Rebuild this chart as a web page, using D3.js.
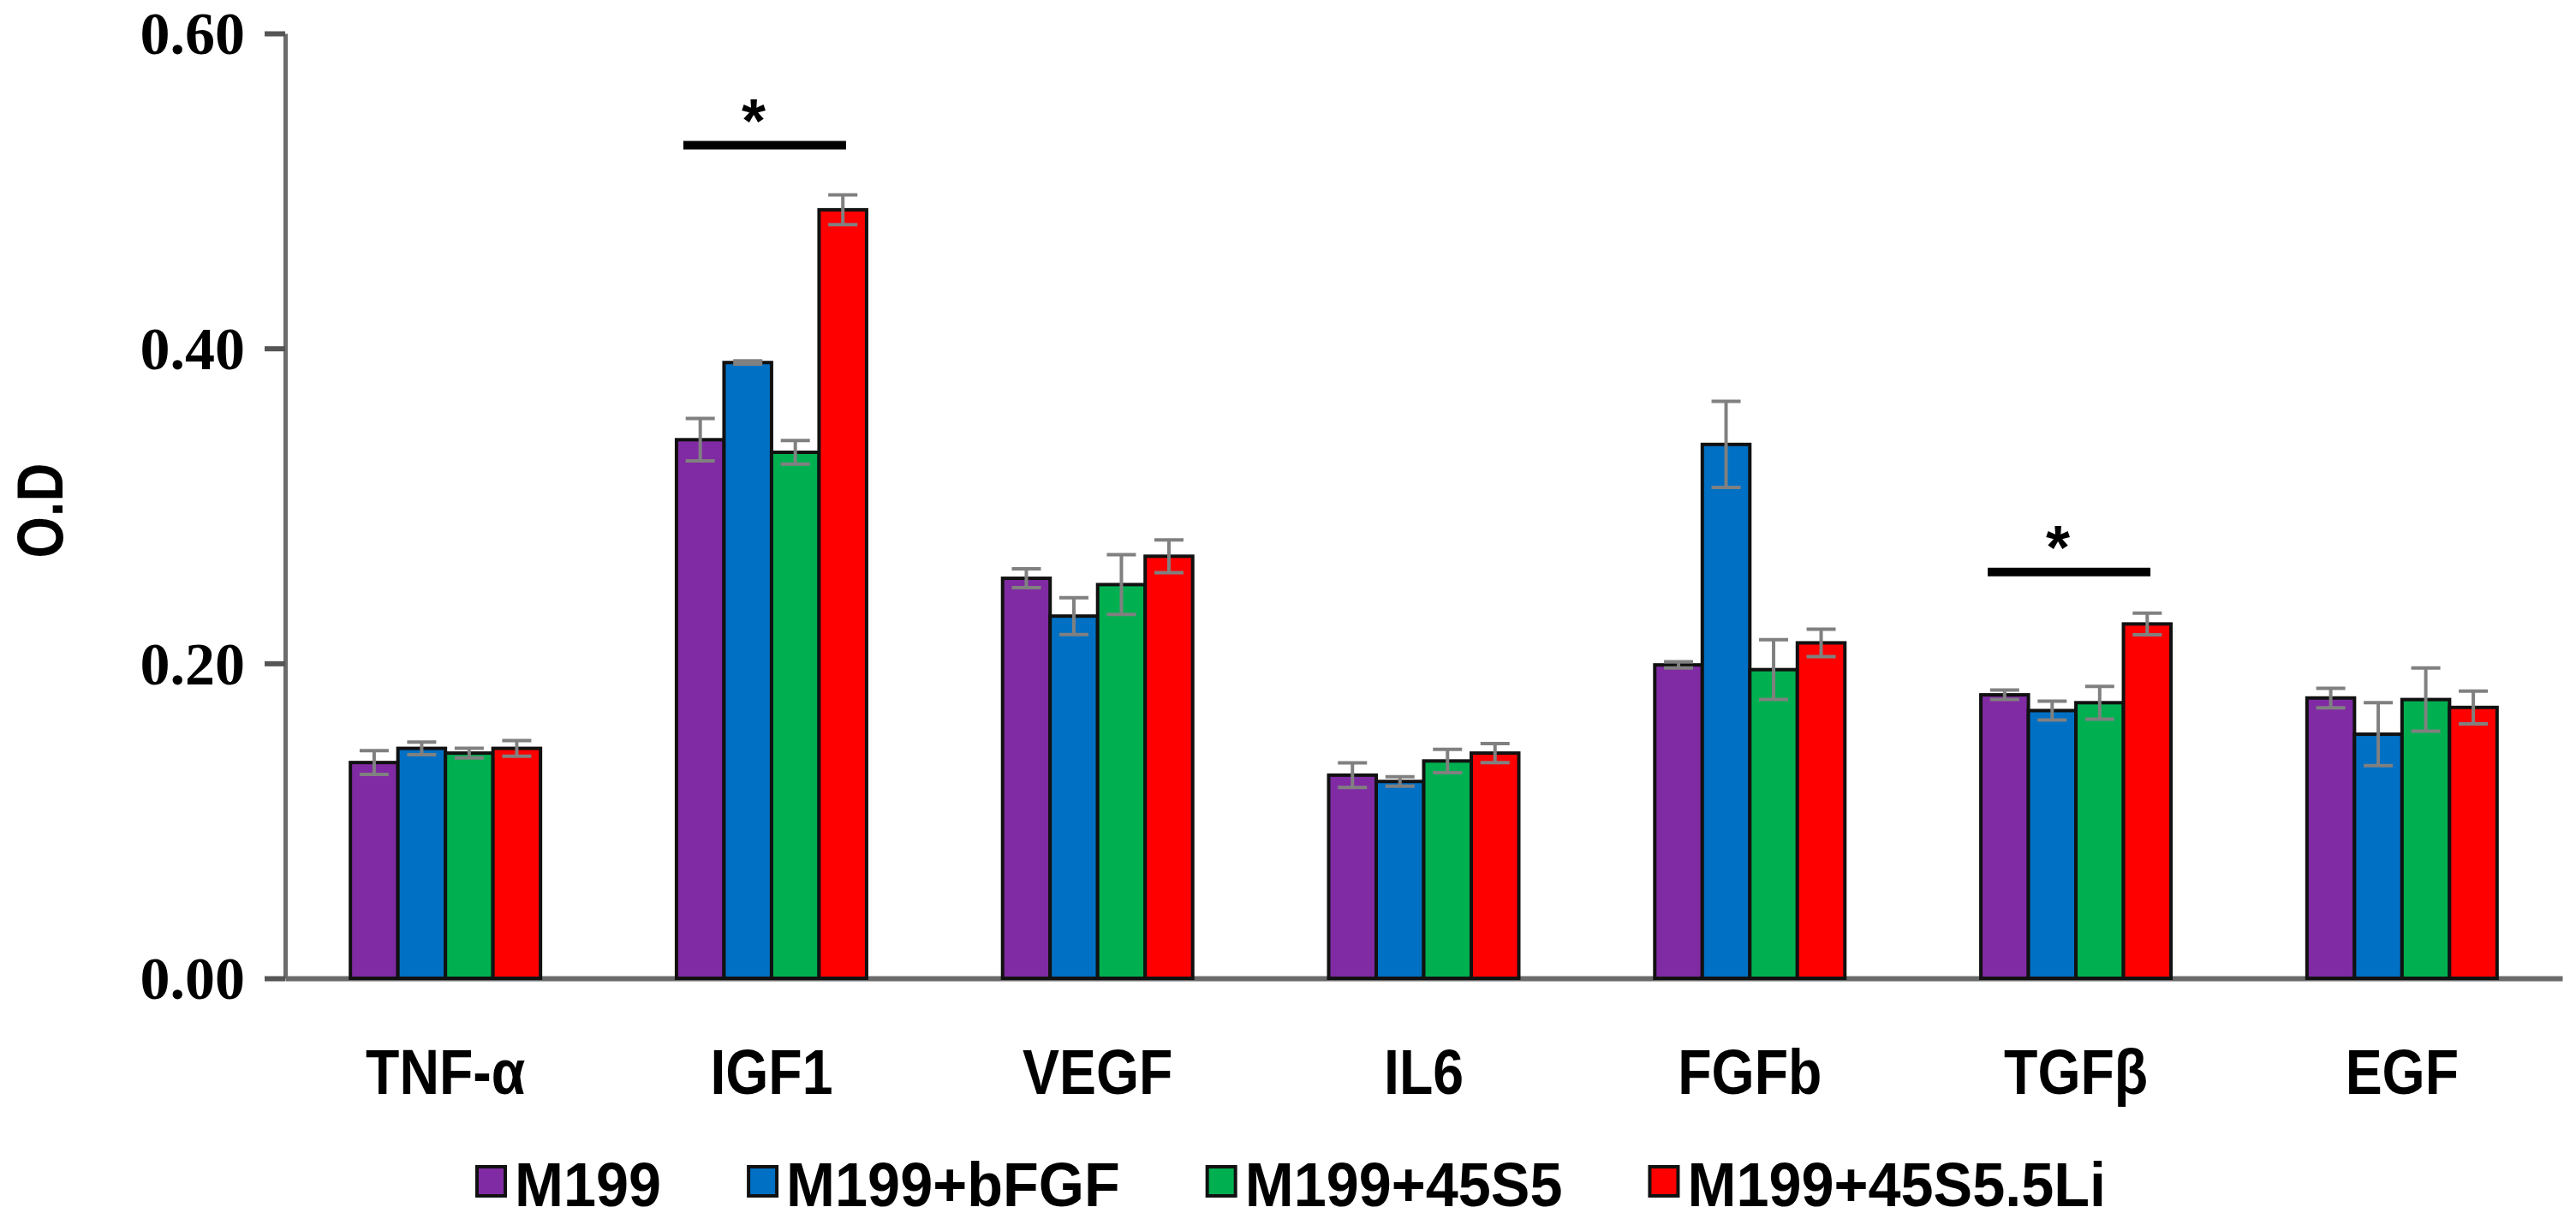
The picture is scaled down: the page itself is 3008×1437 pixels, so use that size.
<!DOCTYPE html>
<html>
<head>
<meta charset="utf-8">
<script src="https://cdn.jsdelivr.net/npm/d3@7"></script>
<style>
	body { margin: 0; background: #fff; }
	svg { display: block; }
</style>
</head>
<body>
<div id="chart"></div>
<script>
// Data
const categories = ['TNF-α', 'IGF1', 'VEGF', 'IL6', 'FGFb', 'TGFβ', 'EGF']
const seriesNames = ['M199', 'M199+bFGF', 'M199+45S5', 'M199+45S5.5Li']
const seriesColors = ['#802ba3', '#0070c4', '#00b050', '#ff0000']

const valM199 = [0.137, 0.342, 0.254, 0.129, 0.199, 0.180, 0.178]
const valBFGF = [0.146, 0.391, 0.230, 0.125, 0.339, 0.170, 0.155]
const val45S5 = [0.143, 0.334, 0.250, 0.138, 0.196, 0.175, 0.177]
const valLi = [0.146, 0.488, 0.268, 0.143, 0.213, 0.225, 0.172]

const errM199 = [0.0075, 0.0135, 0.006, 0.0078, 0.002, 0.003, 0.0062]
const errBFGF = [0.004, 0.001, 0.0117, 0.003, 0.0273, 0.006, 0.020]
const err45S5 = [0.003, 0.0075, 0.019, 0.0074, 0.019, 0.0104, 0.020]
const errLi = [0.005, 0.0095, 0.0104, 0.006, 0.0087, 0.0069, 0.0104]

const yTicks = [0, 0.2, 0.4, 0.6]
const yTitle = 'O.D'

// significance marks: category and the level of the bar
const sigCategories = ['IGF1', 'TGFβ']
const sigLevels = [0.529, 0.258]

const allValues = [valM199, valBFGF, val45S5, valLi]
const allErrors = [errM199, errBFGF, err45S5, errLi]

// Chart dimensions
const chartWidth = 3008
const chartHeight = 1437
const axisLeftX = 333
const axisRightX = 2992
const axisBottomY = 1142
const axisTopY = 39

// Scales
let x0 = d3.scaleBand()
	.domain(categories)
	.range([axisLeftX, axisRightX])
	.paddingInner(0.417)
	.paddingOuter(0.2)
let x1 = d3.scaleBand()
	.domain(seriesNames)
	.range([0, x0.bandwidth()])
let y = d3.scaleLinear()
	.domain([0, 0.6])
	.range([axisBottomY, axisTopY])

let svg = d3.select('#chart')
	.append('svg')
	.attr('width', chartWidth)
	.attr('height', chartHeight)
	.style('background', '#fff')

// Flatten bars
let bars = []
categories.forEach((cat, i) => {
	seriesNames.forEach((s, j) => {
		bars.push({ cat: cat, series: s, value: allValues[j][i], err: allErrors[j][i], color: seriesColors[j] })
	})
})

// X axis (line + labels)
let xAxis = svg.append('g')
	.attr('transform', 'translate(0,' + axisBottomY + ')')
	.call(d3.axisBottom(x0).tickSize(0).tickSizeOuter(0))
xAxis.select('.domain')
	.attr('stroke', '#6b6b6b')
	.attr('stroke-width', 6)
xAxis.selectAll('text')
	.attr('y', 135)
	.attr('dy', 0)
	.attr('transform', 'scale(0.87,1)')
	.style('font-family', '"Liberation Sans", Arial, sans-serif')
	.style('font-weight', 'bold')
	.style('font-size', '74px')
	.style('fill', '#000')

// Y axis
let yAxis = svg.append('g')
	.attr('transform', 'translate(' + axisLeftX + ',0)')
	.call(d3.axisLeft(y)
		.tickValues(yTicks)
		.tickFormat(d3.format('.2f'))
		.tickSize(24)
		.tickSizeOuter(0)
		.tickPadding(23))
yAxis.select('.domain')
	.attr('stroke', '#6b6b6b')
	.attr('stroke-width', 5)
yAxis.selectAll('.tick line')
	.attr('stroke', '#555')
	.attr('stroke-width', 6)
yAxis.selectAll('text')
	.attr('dy', '0.34em')
	.style('font-family', '"Liberation Serif", "Times New Roman", serif')
	.style('font-weight', 'bold')
	.style('font-size', '70px')
	.style('fill', '#000')

// Y title
svg.append('text')
	.attr('transform', 'translate(73,596) rotate(-90) scale(0.82,1)')
	.attr('text-anchor', 'middle')
	.style('font-family', '"Liberation Sans", Arial, sans-serif')
	.style('font-weight', 'bold')
	.style('font-size', '76px')
	.text(yTitle)

// Bars
svg.append('g')
	.selectAll('rect')
	.data(bars)
	.enter()
	.append('rect')
	.attr('x', (d) => x0(d.cat) + x1(d.series))
	.attr('y', (d) => y(d.value))
	.attr('width', x1.bandwidth())
	.attr('height', (d) => y(0) - y(d.value))
	.attr('fill', (d) => d.color)
	.attr('stroke', '#111')
	.attr('stroke-width', 4)

// Error bars
const capWidth = 34
let errG = svg.append('g')
	.attr('stroke', '#808080')
	.attr('stroke-width', 4)
bars.forEach((d) => {
	let cx = x0(d.cat) + x1(d.series) + x1.bandwidth() / 2
	let top = y(d.value + d.err)
	let bottom = y(d.value - d.err)
	errG.append('line')
		.attr('x1', cx).attr('x2', cx)
		.attr('y1', top).attr('y2', bottom)
	errG.append('line')
		.attr('x1', cx - capWidth / 2).attr('x2', cx + capWidth / 2)
		.attr('y1', top).attr('y2', top)
	errG.append('line')
		.attr('x1', cx - capWidth / 2).attr('x2', cx + capWidth / 2)
		.attr('y1', bottom).attr('y2', bottom)
})

// Significance lines and stars
sigCategories.forEach((cat, i) => {
	let start = x0(cat) + 8
	let end = x0(cat) + x0.bandwidth() - 24
	let ly = y(sigLevels[i])
	svg.append('line')
		.attr('x1', start).attr('x2', end)
		.attr('y1', ly).attr('y2', ly)
		.attr('stroke', '#000')
		.attr('stroke-width', 10)
	svg.append('text')
		.attr('x', x0(cat) + 90)
		.attr('y', ly - 4)
		.attr('text-anchor', 'middle')
		.style('font-family', '"Liberation Sans", Arial, sans-serif')
		.style('font-weight', 'bold')
		.style('font-size', '72px')
		.text('*')
})

// Legend
let legend = svg.append('g')
let legendX = 555
const legendBaseline = 1408
seriesNames.forEach((name, i) => {
	legend.append('rect')
		.attr('x', legendX + 2)
		.attr('y', 1362)
		.attr('width', 33)
		.attr('height', 34)
		.attr('fill', seriesColors[i])
		.attr('stroke', '#111')
		.attr('stroke-width', 4)
	let t = legend.append('text')
		.attr('transform', 'translate(' + (legendX + 46) + ',' + legendBaseline + ') scale(0.95,1)')
		.style('font-family', '"Liberation Sans", Arial, sans-serif')
		.style('font-weight', 'bold')
		.style('font-size', '72px')
		.text(name)
	let w = t.node().getComputedTextLength() * 0.95
	legendX = legendX + 46 + w + 100
})
</script>
</body>
</html>
